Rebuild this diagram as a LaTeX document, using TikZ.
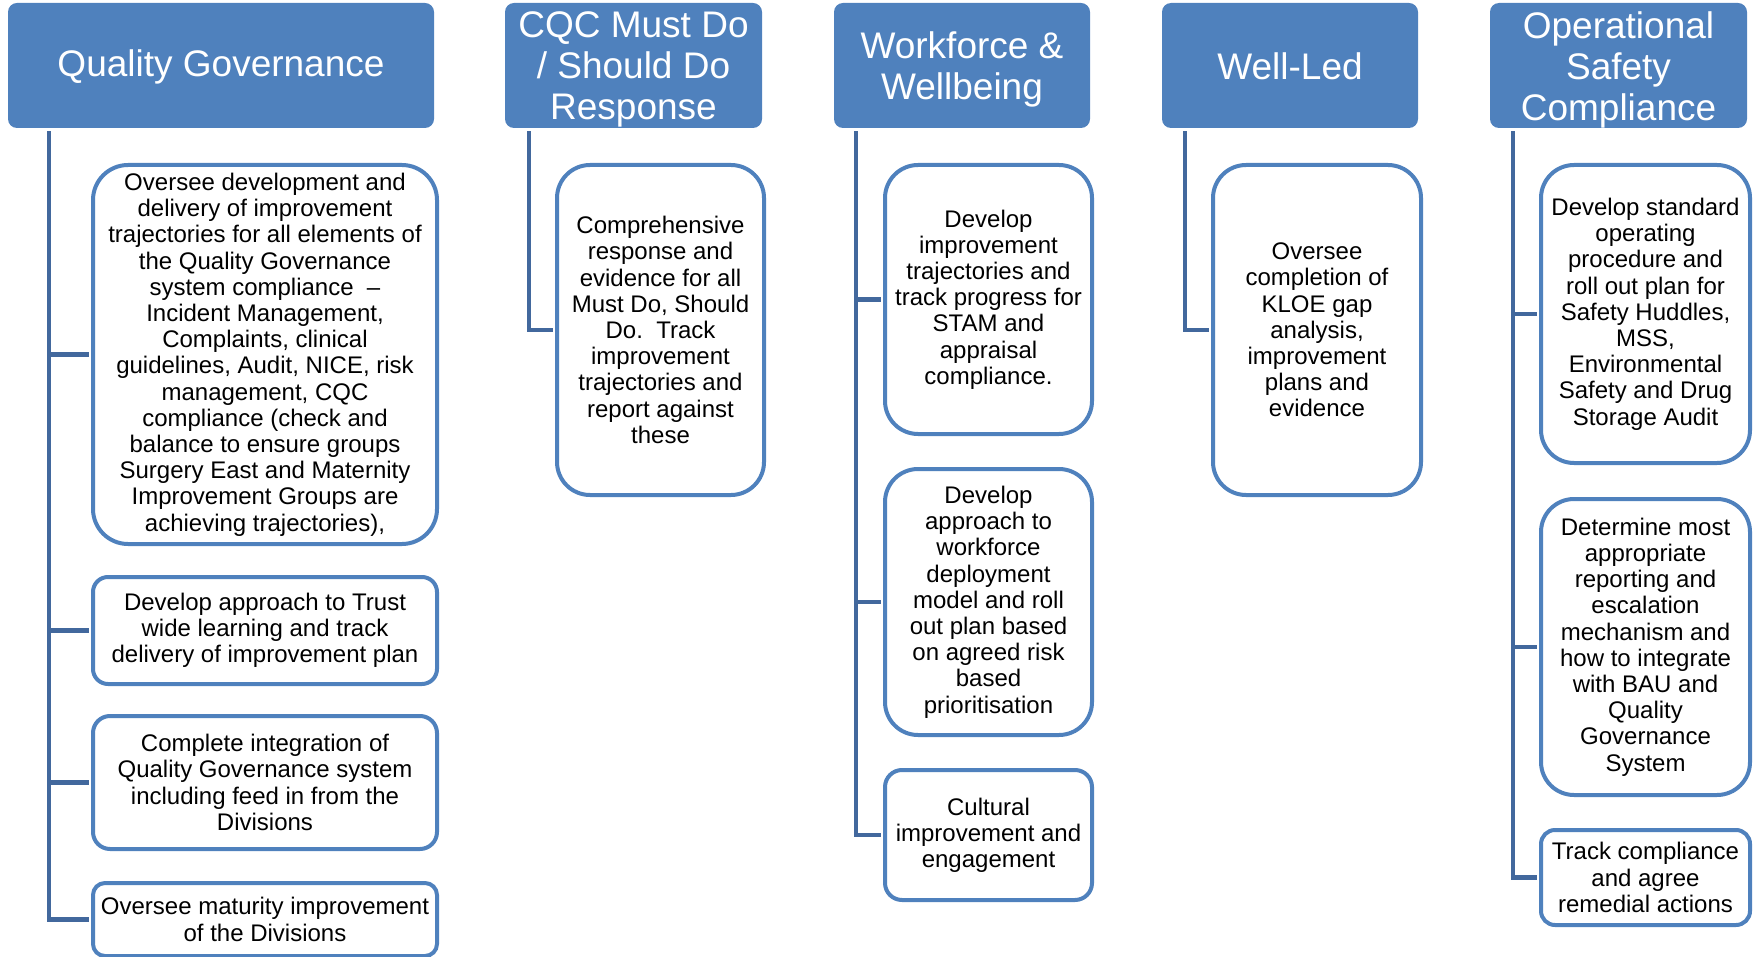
\documentclass[tikz,border=0pt]{standalone}
\usepackage{fontspec}
\setmainfont{Liberation Sans}
\definecolor{hdr}{RGB}{79,129,189}
\definecolor{conn}{RGB}{66,104,157}
\begin{document}
\begin{tikzpicture}[x=1pt,y=-1pt,
  hdrbox/.style={fill=hdr, draw=none, rounded corners=9pt, inner sep=0pt,
    minimum height=125pt},
  hdrtext/.style={yshift=-4pt, text=white, inner sep=0pt,
    font=\fontsize{37}{41}\selectfont, align=center},
  hdrone/.style={hdrtext, yshift=3pt},
  itembox/.style={draw=hdr, line width=4pt, fill=white,
    font=\fontsize{24}{26.2}\selectfont, align=center, inner sep=0pt},
  link/.style={draw=conn, line width=4.5pt}]
\useasboundingbox (0,0) rectangle (1755,957);

% headers
\node[hdrbox, minimum width=426pt, label={[hdrone]center:Quality Governance}] (h1) at (221,65.5) {};
\node[hdrbox, minimum width=257pt, label={[hdrtext]center:CQC Must Do\\/ Should Do\\Response}] (h2) at (633.5,65.5) {};
\node[hdrbox, minimum width=256pt, label={[hdrtext]center:Workforce \&\\Wellbeing}] (h3) at (962,65.5) {};
\node[hdrbox, minimum width=256pt, label={[hdrone]center:Well-Led}] (h4) at (1290,65.5) {};
\node[hdrbox, minimum width=257pt, label={[hdrtext]center:Operational\\Safety\\Compliance}] (h5) at (1618.5,65.5) {};

% column 1
\node[itembox, rounded corners=35pt, minimum width=344pt, minimum height=379pt] (b11) at (265,354.5) {Oversee development and\\delivery of improvement\\trajectories for all elements of\\the Quality Governance\\system compliance\ \ –\\Incident Management,\\Complaints, clinical\\guidelines, Audit, NICE, risk\\management, CQC\\compliance (check and\\balance to ensure groups\\Surgery East and Maternity\\Improvement Groups are\\achieving trajectories),};
\node[itembox, rounded corners=15pt, minimum width=344pt, minimum height=107pt] (b12) at (265,630.5) {Develop approach to Trust\\wide learning and track\\delivery of improvement plan};
\node[itembox, rounded corners=17pt, minimum width=344pt, minimum height=133pt] (b13) at (265,782.5) {Complete integration of\\Quality Governance system\\including feed in from the\\Divisions};
\node[itembox, rounded corners=12pt, minimum width=344pt, minimum height=73pt] (b14) at (265,919.5) {Oversee maturity improvement\\of the Divisions};

% column 2
\node[itembox, rounded corners=33pt, minimum width=207pt, minimum height=330pt] (b21) at (660.5,330) {Comprehensive\\response and\\evidence for all\\Must Do, Should\\Do.\ \ Track\\improvement\\trajectories and\\report against\\these};

% column 3
\node[itembox, rounded corners=33pt, minimum width=207pt, minimum height=269pt] (b31) at (988.5,299.5) {Develop\\improvement\\trajectories and\\track progress for\\STAM and\\appraisal\\compliance.};
\node[itembox, rounded corners=33pt, minimum width=207pt, minimum height=266pt] (b32) at (988.5,602) {Develop\\approach to\\workforce\\deployment\\model and roll\\out plan based\\on agreed risk\\based\\prioritisation};
\node[itembox, rounded corners=17pt, minimum width=207pt, minimum height=130pt] (b33) at (988.5,835) {Cultural\\improvement and\\engagement};

% column 4
\node[itembox, rounded corners=33pt, minimum width=208pt, minimum height=330pt] (b41) at (1317,330) {Oversee\\completion of\\KLOE gap\\analysis,\\improvement\\plans and\\evidence};

% column 5
\node[itembox, rounded corners=33pt, minimum width=209pt, minimum height=298pt] (b51) at (1645.5,314) {Develop standard\\operating\\procedure and\\roll out plan for\\Safety Huddles,\\MSS,\\Environmental\\Safety and Drug\\Storage Audit};
\node[itembox, rounded corners=33pt, minimum width=209pt, minimum height=296pt] (b52) at (1645.5,647) {Determine most\\appropriate\\reporting and\\escalation\\mechanism and\\how to integrate\\with BAU and\\Quality\\Governance\\System};
\node[itembox, rounded corners=14pt, minimum width=209pt, minimum height=95pt] (b53) at (1645.5,877.5) {Track compliance\\and agree\\remedial actions};

% trunk tops
\coordinate (t1) at ([xshift=41pt,yshift=-3pt]h1.south west);
\coordinate (t2) at ([xshift=24pt,yshift=-3pt]h2.south west);
\coordinate (t3) at ([xshift=22pt,yshift=-3pt]h3.south west);
\coordinate (t4) at ([xshift=23pt,yshift=-3pt]h4.south west);
\coordinate (t5) at ([xshift=23pt,yshift=-3pt]h5.south west);

% connectors
\draw[link] (t1) |- ([xshift=-2pt]b14.west);
\draw[link] (b11.west -| t1) -- ([xshift=-2pt]b11.west);
\draw[link] (b12.west -| t1) -- ([xshift=-2pt]b12.west);
\draw[link] (b13.west -| t1) -- ([xshift=-2pt]b13.west);

\draw[link] (t2) |- ([xshift=-2pt]b21.west);

\draw[link] (t3) |- ([xshift=-2pt]b33.west);
\draw[link] (b31.west -| t3) -- ([xshift=-2pt]b31.west);
\draw[link] (b32.west -| t3) -- ([xshift=-2pt]b32.west);

\draw[link] (t4) |- ([xshift=-2pt]b41.west);

\draw[link] (t5) |- ([xshift=-2pt]b53.west);
\draw[link] (b51.west -| t5) -- ([xshift=-2pt]b51.west);
\draw[link] (b52.west -| t5) -- ([xshift=-2pt]b52.west);
\end{tikzpicture}
\end{document}
